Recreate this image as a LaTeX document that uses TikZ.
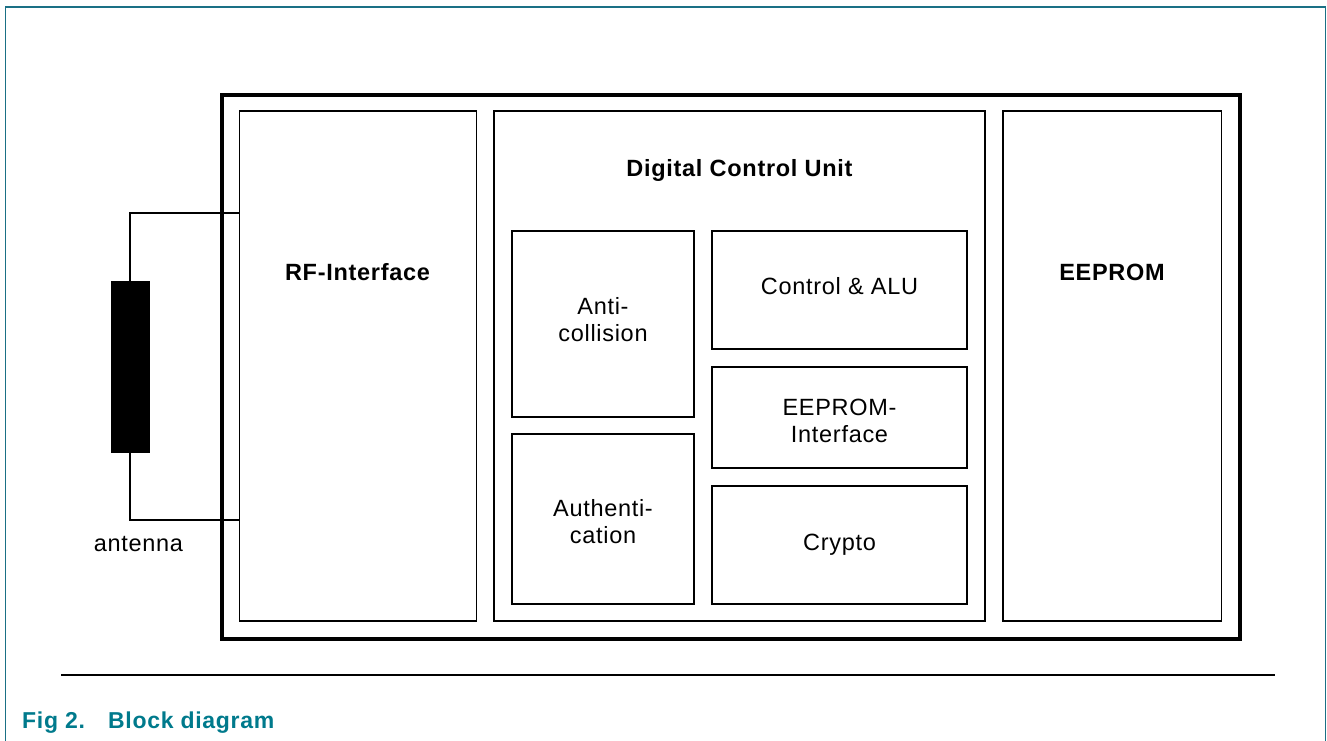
\documentclass[tikz,border=0pt]{standalone}
\usepackage{fontspec}
\setmainfont{Liberation Sans}[LetterSpace=3]
\usetikzlibrary{calc}
\definecolor{frameteal}{RGB}{26,112,133}
\definecolor{capteal}{RGB}{0,122,140}
\begin{document}
\begin{tikzpicture}[x=1pt,y=-1pt,
  box/.style={draw=black, line width=1.5pt, inner sep=0pt, outer sep=0pt, anchor=north west},
  chipbox/.style={box, line width=4pt},
  lbl/.style={font=\fontsize{23.5}{27}\selectfont, align=center, inner sep=0pt},
  blbl/.style={font=\fontsize{23.5}{27}\selectfont\bfseries, inner sep=0pt, anchor=base},
  caption/.style={font=\fontsize{23}{27}\selectfont\bfseries, text=capteal, inner sep=0pt, anchor=base west},
  wire/.style={line width=1.5pt},
  antbar/.style={draw=black, fill=black, line width=1pt, inner sep=0pt, minimum width=38pt, minimum height=171pt}]
\useasboundingbox (0,0) rectangle (1327,740);
% page frame
\draw[frameteal, line width=1.5pt] (5.5,760) |- (1325.5,7) -- (1325.5,760);
% chip outline
\node[chipbox, minimum width=1017.5pt, minimum height=544pt] (chip) at (222,95) {};
% main blocks
\node[box, minimum width=237pt, minimum height=510pt] (rf) at (239.5,111) {};
\node[box, minimum width=491pt, minimum height=510pt] (dcu) at (494,111) {};
\node[box, minimum width=218.5pt, minimum height=510pt] (ee) at (1003,111) {};
\node[blbl] (rflbl) at (357.5,280.5) {RF-Interface};
\node[blbl] (dculbl) at (739.5,176) {Digital Control Unit};
\node[blbl] (eelbl) at (1112,280.5) {EEPROM};
% sub blocks
\node[box, minimum width=182pt, minimum height=186pt] (anti) at (512,231) {};
\node[lbl] at ($(anti.center)+(0,-4)$) {Anti-\\collision};
\node[box, minimum width=182pt, minimum height=170pt] (auth) at (512,434) {};
\node[lbl] at ($(auth.center)+(0,3)$) {Authenti-\\cation};
\node[box, minimum width=255pt, minimum height=118pt] (alu) at (712,231) {};
\node[lbl] at ($(alu.center)+(0,-4)$) {Control \& ALU};
\node[box, minimum width=255pt, minimum height=101pt] (eeif) at (712,367) {};
\node[lbl] at ($(eeif.center)+(0,3)$) {EEPROM-\\Interface};
\node[box, minimum width=255pt, minimum height=118pt] (crypto) at (712,486) {};
\node[lbl] at ($(crypto.center)+(0,0)$) {Crypto};
% antenna
\node[antbar] (ant) at (130,366.5) {};
\coordinate (rftop) at ($(rf.north west)+(0,102)$);
\coordinate (rfbot) at ($(rf.north west)+(0,409)$);
\draw[wire] (rftop) -| (ant.north);
\draw[wire] (rfbot) -| (ant.south);
\node[lbl, anchor=base] (antlbl) at (138.5,551) {antenna};
% rule and caption
\coordinate (ruleL) at (61,675);
\coordinate (ruleR) at (1275,675);
\draw[line width=1.5pt] (ruleL) -- (ruleR);
\node[caption] (fig) at (22,728) {Fig 2.};
\node[caption] (figtitle) at (108,728) {Block diagram};
\end{tikzpicture}
\end{document}
